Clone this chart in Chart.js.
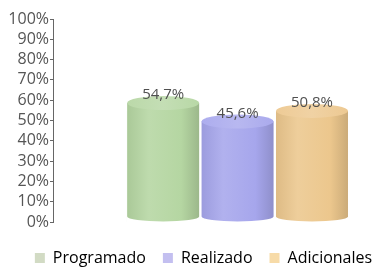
<!DOCTYPE html>
<html lang="es">
<head>
  <meta charset="UTF-8" />
  <title>Programado / Realizado / Adicionales</title>
  <script src="https://cdn.jsdelivr.net/npm/chart.js"></script>
  <style>
    html, body { margin: 0; padding: 0; background: #fff; }
    #wrap { width: 376px; height: 273px; }
  </style>
</head>
<body>
  <div id="wrap"><canvas id="chart"></canvas></div>

  <script>
    // data
    const seriesNames = ["Programado", "Realizado", "Adicionales"];
    const seriesValues = [54.7, 45.6, 50.8];
    const yTicks = [0, 10, 20, 30, 40, 50, 60, 70, 80, 90, 100];

    const barColors = ["#b5d6a2", "#a6a6ec", "#ecc78d"];
    const legendColors = ["#d2dbc4", "#c3bff0", "#f7dba8"];

    const fmt = v => v.toFixed(1).replace(".", ",") + "%";

    function shade(hex, amt) {
      const n = parseInt(hex.slice(1), 16);
      const f = c => Math.max(0, Math.min(255, Math.round(amt < 0 ? c * (1 + amt) : c + (255 - c) * amt)));
      return `rgb(${f((n >> 16) & 255)},${f((n >> 8) & 255)},${f(n & 255)})`;
    }

    // paints each bar as a cylinder over the library's bar element
    const cylinders = {
      id: "cylinders",
      afterDatasetsDraw(chart) {
        const ctx = chart.ctx;
        chart.data.datasets.forEach((ds, i) => {
          const bar = chart.getDatasetMeta(i).data[0];
          if (!bar) return;
          const { x, y, base, width } = bar.getProps(["x", "y", "base", "width"], true);
          const l = x - width / 2, r = x + width / 2, rx = width / 2;
          const topRy = 7, botRy = 5;
          const topY = y - 8, botY = base - botRy;
          const c = barColors[i];

          const grad = ctx.createLinearGradient(l, 0, r, 0);
          grad.addColorStop(0, shade(c, -0.06));
          grad.addColorStop(0.3, shade(c, 0.12));
          grad.addColorStop(0.75, c);
          grad.addColorStop(1, shade(c, -0.14));

          ctx.save();
          // clear the flat bar first
          ctx.fillStyle = "#fff";
          ctx.fillRect(l - 1, y - 1, width + 2, base - y + 2);

          ctx.fillStyle = grad;
          ctx.beginPath();
          ctx.moveTo(l, topY);
          ctx.lineTo(l, botY);
          ctx.ellipse(x, botY, rx, botRy, 0, Math.PI, 0, true);
          ctx.lineTo(r, topY);
          ctx.closePath();
          ctx.fill();

          const tg = ctx.createLinearGradient(l, 0, r, 0);
          tg.addColorStop(0, shade(c, 0.08));
          tg.addColorStop(0.5, shade(c, 0.2));
          tg.addColorStop(1, shade(c, 0.04));
          ctx.fillStyle = tg;
          ctx.beginPath();
          ctx.ellipse(x, topY, rx, topRy, 0, 0, Math.PI * 2);
          ctx.fill();

          ctx.font = "15px 'Open Sans'";
          ctx.fillStyle = "#505050";
          ctx.textAlign = "center";
          ctx.textBaseline = "middle";
          ctx.fillText(fmt(seriesValues[i]), x, topY - 8);
          ctx.restore();
        });
      }
    };

    // legend sits a bit right of centre in the original
    const legendNudge = {
      id: "legendNudge",
      afterLayout(chart) { chart.legend.right += 27; }
    };

    new Chart(document.getElementById("chart"), {
      type: "bar",
      data: {
        datasets: seriesNames.map((name, i) => ({
          label: name,
          data: [{ x: i + 1, y: seriesValues[i] }],
          backgroundColor: barColors[i],
          borderWidth: 0,
          barThickness: 72,
          grouped: false,
          clip: false
        }))
      },
      options: {
        responsive: true,
        maintainAspectRatio: false,
        animation: false,
        layout: { padding: { top: 19, right: 0, left: 4, bottom: 0 } },
        plugins: {
          legend: {
            position: "bottom",
            maxHeight: 40,
            labels: {
              boxWidth: 10,
              boxHeight: 10,
              padding: 17,
              color: "#444",
              font: { family: "'Open Sans'", size: 16 },
              generateLabels: chart => seriesNames.map((name, i) => ({
                text: name,
                fillStyle: legendColors[i],
                strokeStyle: legendColors[i],
                lineWidth: 0,
                datasetIndex: i
              }))
            }
          },
          tooltip: { enabled: false }
        },
        scales: {
          x: {
            type: "linear", min: -0.48, max: 3.86,
            offset: false,
            ticks: { display: false },
            grid: { display: false },
            border: { display: false },
            afterFit: s => { s.height = 11; }
          },
          y: {
            min: 0, max: 100,
            afterBuildTicks: s => { s.ticks = yTicks.map(v => ({ value: v })); },
            afterFit: s => { s.width = 49; },
            ticks: {
              autoSkip: false,
              callback: v => v + "%",
              color: "#555",
              padding: 1,
              font: { family: "'Open Sans'", size: 16 }
            },
            grid: { drawOnChartArea: false, tickLength: 3, color: "#666" },
            border: { color: "#666" }
          }
        }
      },
      plugins: [cylinders, legendNudge]
    });
  </script>
</body>
</html>
